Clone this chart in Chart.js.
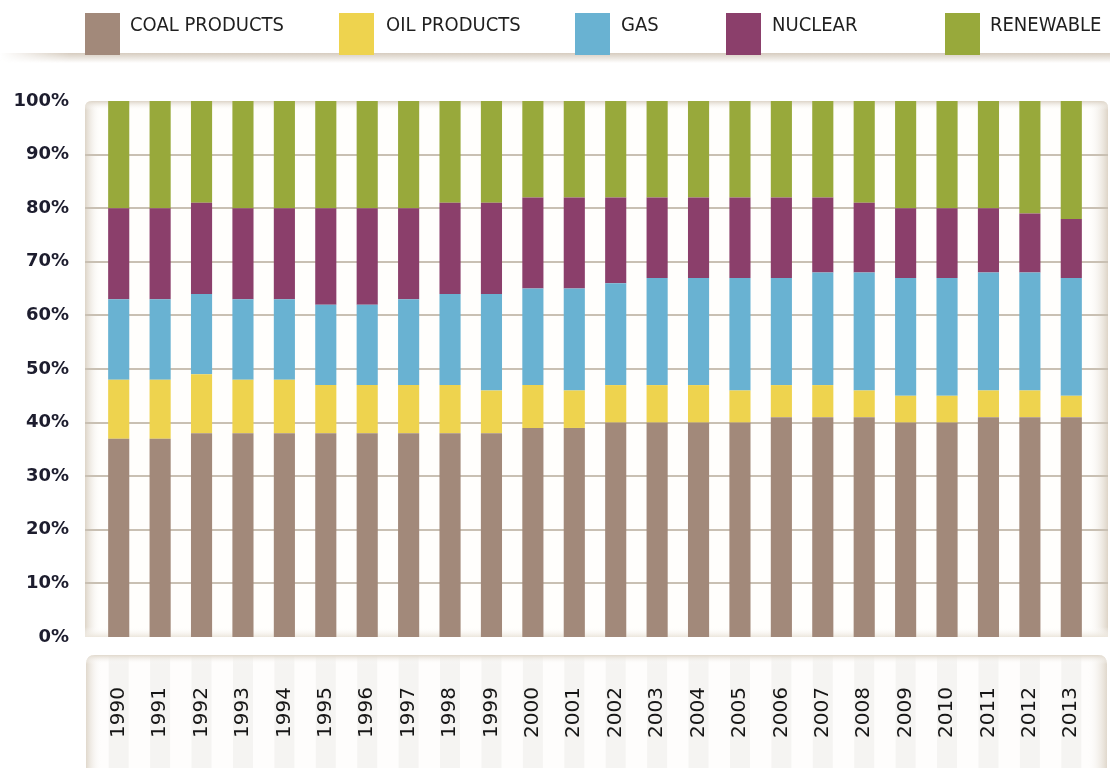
<!DOCTYPE html>
<html>
<head>
<meta charset="utf-8">
<script src="https://cdn.jsdelivr.net/npm/chart.js@4"></script>
<style>
  html, body { margin: 0; padding: 0; background: #fff; }
  #wrap { position: relative; width: 1110px; height: 768px; overflow: hidden; }
  #grafico { position: absolute; left: 0; top: 0; }
  #fascia {
    position: absolute; left: 0; top: 53px; width: 1110px; height: 10px;
    background: linear-gradient(to bottom, #d6ccbf, rgba(255,255,255,0));
    -webkit-mask-image: linear-gradient(to right, transparent, #000 70px);
    mask-image: linear-gradient(to right, transparent, #000 70px);
  }
  .voce { position: absolute; top: 13px; height: 42px; }
  .quadrato { position: absolute; left: 0; top: 0; width: 35px; height: 42px; }
  .etichetta {
    position: absolute; top: -1px; white-space: nowrap;
    font-family: "Liberation Sans Narrow", "DejaVu Sans Condensed", sans-serif;
    font-size: 20px; color: #1f1f1f;
  }
</style>
</head>
<body>
<div id="wrap">
  <canvas id="grafico" width="1110" height="768"></canvas>
  <div id="fascia"></div>
  <div id="legenda"></div>
</div>
<script>
const anni = ['1990', '1991', '1992', '1993', '1994', '1995', '1996', '1997', '1998', '1999', '2000', '2001',
  '2002', '2003', '2004', '2005', '2006', '2007', '2008', '2009', '2010', '2011', '2012', '2013'];

const coal = [37, 37, 38, 38, 38, 38, 38, 38, 38, 38, 39, 39, 40, 40, 40, 40, 41, 41, 41, 40, 40, 41, 41, 41];
const oil = [11, 11, 11, 10, 10, 9, 9, 9, 9, 8, 8, 7, 7, 7, 7, 6, 6, 6, 5, 5, 5, 5, 5, 4];
const gas = [15, 15, 15, 15, 15, 15, 15, 16, 17, 18, 18, 19, 19, 20, 20, 21, 20, 21, 22, 22, 22, 22, 22, 22];
const nuclear = [17, 17, 17, 17, 17, 18, 18, 17, 17, 17, 17, 17, 16, 15, 15, 15, 15, 14, 13, 13, 13, 12, 11, 11];
const renewable = [20, 20, 19, 20, 20, 20, 20, 20, 19, 19, 18, 18, 18, 18, 18, 18, 18, 18, 19, 20, 20, 20, 21, 22];

const yTicks = [0, 10, 20, 30, 40, 50, 60, 70, 80, 90, 100];

const serie = [
  { label: 'COAL PRODUCTS', data: coal, colore: '#a2897a' },
  { label: 'OIL PRODUCTS', data: oil, colore: '#eed34e' },
  { label: 'GAS', data: gas, colore: '#69b2d2' },
  { label: 'NUCLEAR', data: nuclear, colore: '#8b3f6b' },
  { label: 'RENEWABLE', data: renewable, colore: '#98a93b' }
];

// posizioni orizzontali della legenda (quadrato, testo)
const posLegenda = [[85, 45], [339, 47], [575, 46], [726, 46], [945, 45]];

const legenda = document.getElementById('legenda');
serie.forEach((s, i) => {
  const voce = document.createElement('div');
  voce.className = 'voce';
  voce.style.left = posLegenda[i][0] + 'px';
  voce.innerHTML = `<div class="quadrato" style="background:${s.colore}"></div>` +
    `<div class="etichetta" style="left:${posLegenda[i][1]}px">${s.label}</div>`;
  legenda.appendChild(voce);
});

function pannello(ctx, x0, y0, x1, y1, r) {
  ctx.beginPath();
  ctx.moveTo(x0, y1);
  ctx.lineTo(x0, y0 + r);
  ctx.quadraticCurveTo(x0, y0, x0 + r, y0);
  ctx.lineTo(x1 - r, y0);
  ctx.quadraticCurveTo(x1, y0, x1, y0 + r);
  ctx.lineTo(x1, y1);
  ctx.closePath();
}

function sfumature(ctx, x0, y0, x1, y1, colore) {
  let g = ctx.createLinearGradient(x0, 0, x0 + 16, 0);
  g.addColorStop(0, colore);
  g.addColorStop(1, 'rgba(255,255,255,0)');
  ctx.fillStyle = g;
  ctx.fillRect(x0, y0, 16, y1 - y0);
  g = ctx.createLinearGradient(x1 - 20, 0, x1, 0);
  g.addColorStop(0, 'rgba(255,255,255,0)');
  g.addColorStop(1, colore);
  ctx.fillStyle = g;
  ctx.fillRect(x1 - 20, y0, 20, y1 - y0);
  g = ctx.createLinearGradient(0, y0, 0, y0 + 9);
  g.addColorStop(0, colore);
  g.addColorStop(1, 'rgba(255,255,255,0)');
  ctx.fillStyle = g;
  ctx.fillRect(x0, y0, x1 - x0, 9);
}

// sfondo, griglia e fascia degli anni, disegnati prima di assi e barre
const sfondo = {
  id: 'sfondo',
  beforeDraw(chart) {
    const { ctx, chartArea, scales } = chart;
    const top = chartArea.top, bottom = chartArea.bottom;
    ctx.save();
    pannello(ctx, 85, top, 1108, bottom, 7);
    ctx.clip();
    ctx.fillStyle = '#fffefc';
    ctx.fillRect(85, top, 1023, bottom - top);
    sfumature(ctx, 85, top, 1108, bottom, '#ddd4c7');
    const g = ctx.createLinearGradient(0, bottom - 10, 0, bottom);
    g.addColorStop(0, 'rgba(255,255,255,0)');
    g.addColorStop(1, '#ece6dc');
    ctx.fillStyle = g;
    ctx.fillRect(85, bottom - 10, 1023, 10);
    ctx.restore();

    ctx.save();
    ctx.strokeStyle = '#c9c0b3';
    ctx.lineWidth = 2;
    yTicks.filter(v => v > 0 && v < 100).forEach(v => {
      const y = Math.round(scales.y.getPixelForValue(v));
      ctx.beginPath();
      ctx.moveTo(85, y);
      ctx.lineTo(1108, y);
      ctx.stroke();
    });
    ctx.restore();

    ctx.save();
    pannello(ctx, 86, 655, 1107, 780, 9);
    ctx.clip();
    ctx.fillStyle = '#fefdfc';
    ctx.fillRect(86, 655, 1021, 125);
    anni.forEach((a, i) => {
      const x = scales.x.getPixelForValue(i);
      ctx.fillStyle = '#f5f4f2';
      ctx.fillRect(x - 10, 655, 20, 125);
    });
    sfumature(ctx, 86, 655, 1107, 780, '#e0d8cc');
    ctx.restore();
  }
};

new Chart(document.getElementById('grafico').getContext('2d'), {
  type: 'bar',
  data: {
    labels: anni,
    datasets: serie.map(s => ({
      label: s.label,
      data: s.data,
      backgroundColor: s.colore,
      borderWidth: 0,
      barPercentage: 0.51,
      categoryPercentage: 1
    }))
  },
  options: {
    responsive: false,
    animation: false,
    layout: { padding: { top: 101, right: 18, bottom: 0, left: 0 } },
    plugins: { legend: { display: false }, tooltip: { enabled: false } },
    scales: {
      x: {
        stacked: true,
        grid: { display: false, drawTicks: false },
        border: { display: false },
        afterFit: scale => {
          scale.height = 131;
          scale.paddingLeft = 0;
          scale.paddingRight = 0;
        },
        ticks: {
          autoSkip: false,
          minRotation: 90,
          maxRotation: 90,
          padding: 50,
          color: '#151515',
          font: { family: 'DejaVu Sans', size: 20 }
        }
      },
      y: {
        stacked: true,
        min: 0,
        max: 100,
        grid: { display: false, drawTicks: false },
        border: { display: false },
        afterFit: scale => { scale.width = 98; },
        afterBuildTicks: scale => { scale.ticks = yTicks.map(v => ({ value: v })); },
        ticks: {
          padding: 29,
          color: '#1d1d2e',
          font: { family: 'DejaVu Sans', size: 18, weight: 'bold' },
          callback: v => v + '%'
        }
      }
    }
  },
  plugins: [sfondo]
});
</script>
</body>
</html>
